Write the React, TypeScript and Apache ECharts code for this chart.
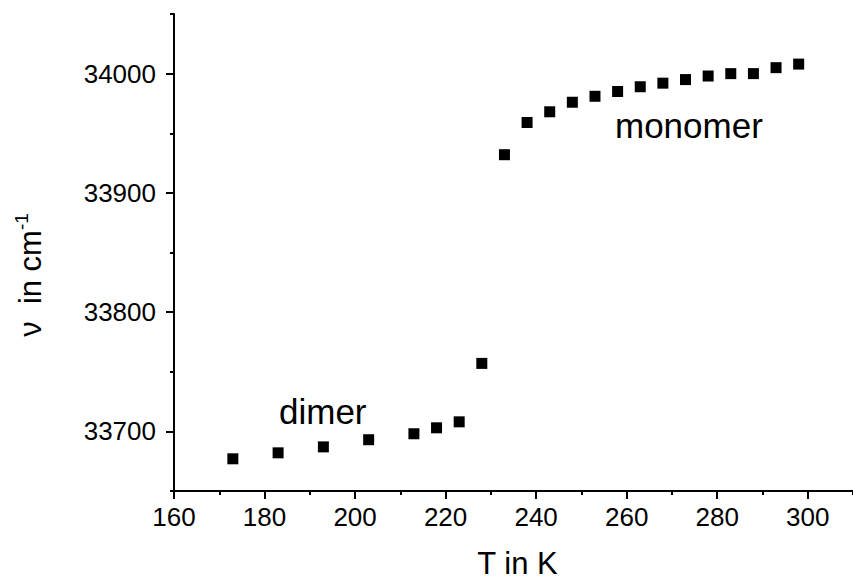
import React, { useEffect, useRef } from "react";
import * as echarts from "echarts";

const temperatures = [173, 183, 193, 203, 213, 218, 223, 228, 233, 238, 243, 248, 253, 258, 263, 268, 273, 278, 283, 288, 293, 298];
const wavenumbers = [33677, 33682, 33687, 33693, 33698, 33703, 33708, 33757, 33932, 33959, 33968, 33976, 33981, 33985, 33989, 33992, 33995, 33998, 34000, 34000, 34005, 34008];
const xTitle = "T in K";
const yTitleMain = "ν  in cm";
const yTitleSup = "-1";
const annotations = [
  { text: "dimer", x: 279, y: 411.5 },
  { text: "monomer", x: 615, y: 125 },
];

const FONT = "'Liberation Sans', Arial, Helvetica, sans-serif";

export default function App() {
  const ref = useRef<HTMLDivElement>(null);
  useEffect(() => {
    document.body.style.margin = "0";
    const chart = echarts.init(ref.current!, null, { renderer: "svg" });
    const axisLine = { show: true, lineStyle: { color: "#000", width: 2 } };
    const major = { show: true, inside: false, length: 8, lineStyle: { color: "#000", width: 2 } };
    const minor = { show: true, inside: false, length: 4, lineStyle: { color: "#000", width: 2 } };
    const data = temperatures.map((t, i) => [t, wavenumbers[i]]);
    chart.setOption({
      animation: false,
      backgroundColor: "#fff",
      textStyle: { fontFamily: FONT },
      grid: { left: 174, top: 14, right: -6, bottom: 87, containLabel: false },
      xAxis: [
        {
          type: "value", position: "bottom", min: 160, max: 310, interval: 20,
          axisLine, axisTick: major, splitLine: { show: false },
          axisLabel: { show: true, showMaxLabel: false, margin: 13, fontSize: 26, color: "#000", fontFamily: FONT,
            formatter: (v: number) => (v % 20 === 0 ? String(v) : "") },
        },
        {
          type: "value", position: "bottom", min: 160, max: 310, interval: 10,
          axisLine: { show: false }, axisTick: minor, splitLine: { show: false }, axisLabel: { show: false },
        },
      ],
      yAxis: [
        {
          type: "value", position: "left", min: 33650, max: 34050, splitNumber: 4,
          axisLine, axisTick: major, splitLine: { show: false },
          axisLabel: { show: true, showMinLabel: false, showMaxLabel: false, margin: 18, fontSize: 26, color: "#000", fontFamily: FONT,
            formatter: (v: number) => (v % 100 === 0 ? String(v) : "") },
        },
        {
          type: "value", position: "left", min: 33650, max: 34050, interval: 50,
          axisLine: { show: false }, axisTick: minor, splitLine: { show: false }, axisLabel: { show: false },
        },
      ],
      series: [
        {
          type: "scatter", xAxisIndex: 0, yAxisIndex: 0, data,
          symbol: "rect", symbolSize: 11, itemStyle: { color: "#000", opacity: 1 },
        },
      ],
      graphic: [
        ...annotations.map((a) => ({
          type: "text", x: a.x, y: a.y,
          style: { text: a.text, fontSize: 35, fontFamily: FONT, fill: "#000", align: "left", verticalAlign: "middle" },
        })),
        {
          type: "text", x: 517.5, y: 563.5,
          style: { text: xTitle, fontSize: 31, lineHeight: 26, fontFamily: FONT, fill: "#000", align: "center", verticalAlign: "middle" },
        },
        {
          type: "text", x: 28.6, y: 275, rotation: Math.PI / 2,
          style: {
            text: `{a|${yTitleMain}}{s|${yTitleSup}}`,
            align: "center", verticalAlign: "middle", fill: "#000",
            rich: {
              a: { fontSize: 31, fontFamily: FONT, fill: "#000", lineHeight: 34, verticalAlign: "bottom" },
              s: { fontSize: 19, fontFamily: FONT, fill: "#000", lineHeight: 19, verticalAlign: "top" },
            },
          },
        },
      ],
    });
    return () => chart.dispose();
  }, []);
  return <div ref={ref} style={{ width: 853, height: 578 }} />;
}
